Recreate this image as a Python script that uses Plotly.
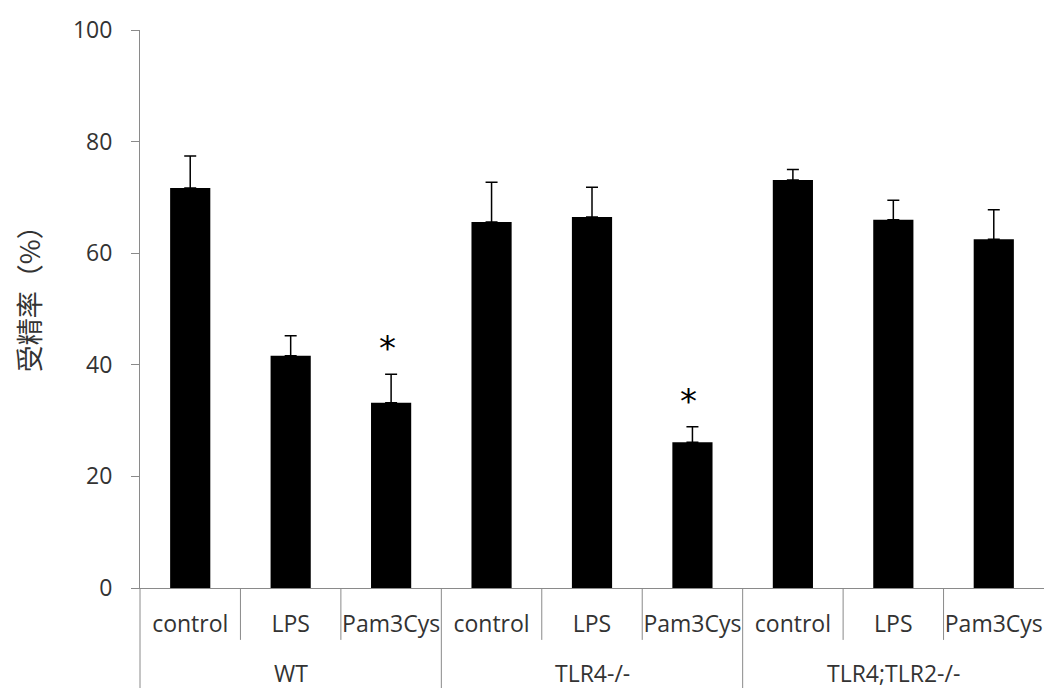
import plotly.graph_objects as go

# Fertilization rate by genotype and treatment
groups = ["WT", "TLR4-/-", "TLR4;TLR2-/-"]
treatments = ["control", "LPS", "Pam3Cys"]
categories = [t for g in groups for t in treatments]
rates = [71.7, 41.6, 33.2, 65.6, 66.5, 26.1, 73.1, 66.0, 62.5]
errors = [5.7, 3.6, 5.1, 7.1, 5.3, 2.8, 1.9, 3.5, 5.3]
significant = [2, 5]  # bar indices marked with *

AXIS_GRAY = "#8a8a8a"
TEXT = "#333333"
FONT = "Open Sans"
FS = 23

x_idx = list(range(len(categories)))
n = len(categories)

fig = go.Figure(
    go.Bar(
        x=x_idx,
        y=rates,
        width=0.4,
        marker=dict(color="black", line=dict(width=0)),
        error_y=dict(
            type="data",
            array=errors,
            arrayminus=[0] * n,
            symmetric=False,
            color="black",
            thickness=1.5,
            width=6,
        ),
        showlegend=False,
    )
)

fig.update_layout(
    width=1045,
    height=688,
    margin=dict(l=140, r=1, t=30, b=100),
    paper_bgcolor="white",
    plot_bgcolor="white",
    font=dict(family=FONT, size=FS, color=TEXT),
    xaxis=dict(
        range=[-0.5, n - 0.5],
        tickvals=x_idx,
        ticktext=categories,
        ticks="",
        showgrid=False,
        zeroline=False,
        showline=True,
        linecolor=AXIS_GRAY,
        linewidth=1,
        ticklabelstandoff=15,
        tickfont=dict(family=FONT, size=FS, color=TEXT),
        fixedrange=True,
    ),
    yaxis=dict(
        range=[0, 100],
        tickvals=[0, 20, 40, 60, 80, 100],
        ticks="outside",
        ticklen=8,
        tickcolor=AXIS_GRAY,
        showgrid=False,
        zeroline=False,
        showline=True,
        linecolor=AXIS_GRAY,
        linewidth=1,
        ticklabelstandoff=14,
        tickfont=dict(family=FONT, size=FS, color=TEXT),
        fixedrange=True,
    ),
)

# Dividers under the category axis: short ones between treatments,
# full-height ones between genotype groups
inner_bottom = -0.093
group_bottom = -0.18
for k in range(n):
    xp = k / n
    is_group_edge = k % len(treatments) == 0
    fig.add_shape(
        type="line",
        xref="paper", yref="paper",
        x0=xp, x1=xp,
        y0=0, y1=group_bottom if is_group_edge else inner_bottom,
        line=dict(color=AXIS_GRAY, width=1),
    )

# Genotype labels
for gi, g in enumerate(groups):
    center = (gi * len(treatments) + (len(treatments) - 1) / 2 + 0.5) / n
    fig.add_annotation(
        x=center, y=-0.152, xref="paper", yref="paper",
        text=g, showarrow=False,
        xanchor="center", yanchor="middle",
        font=dict(family=FONT, size=FS, color=TEXT),
    )

# Significance markers
for i in significant:
    fig.add_annotation(
        x=i, y=rates[i] + errors[i], xref="x", yref="y",
        text="*", showarrow=False,
        xanchor="center", yanchor="bottom",
        xshift=-4, yshift=4,
        font=dict(family="DejaVu Sans", size=34, color="black"),
    )

# Y axis title
fig.add_annotation(
    x=-0.124, y=0.53, xref="paper", yref="paper",
    text="受精率（%）", showarrow=False, textangle=-90,
    xanchor="center", yanchor="middle",
    font=dict(family="Noto Sans CJK SC", size=27, color=TEXT),
)

fig.write_html("out.html")
